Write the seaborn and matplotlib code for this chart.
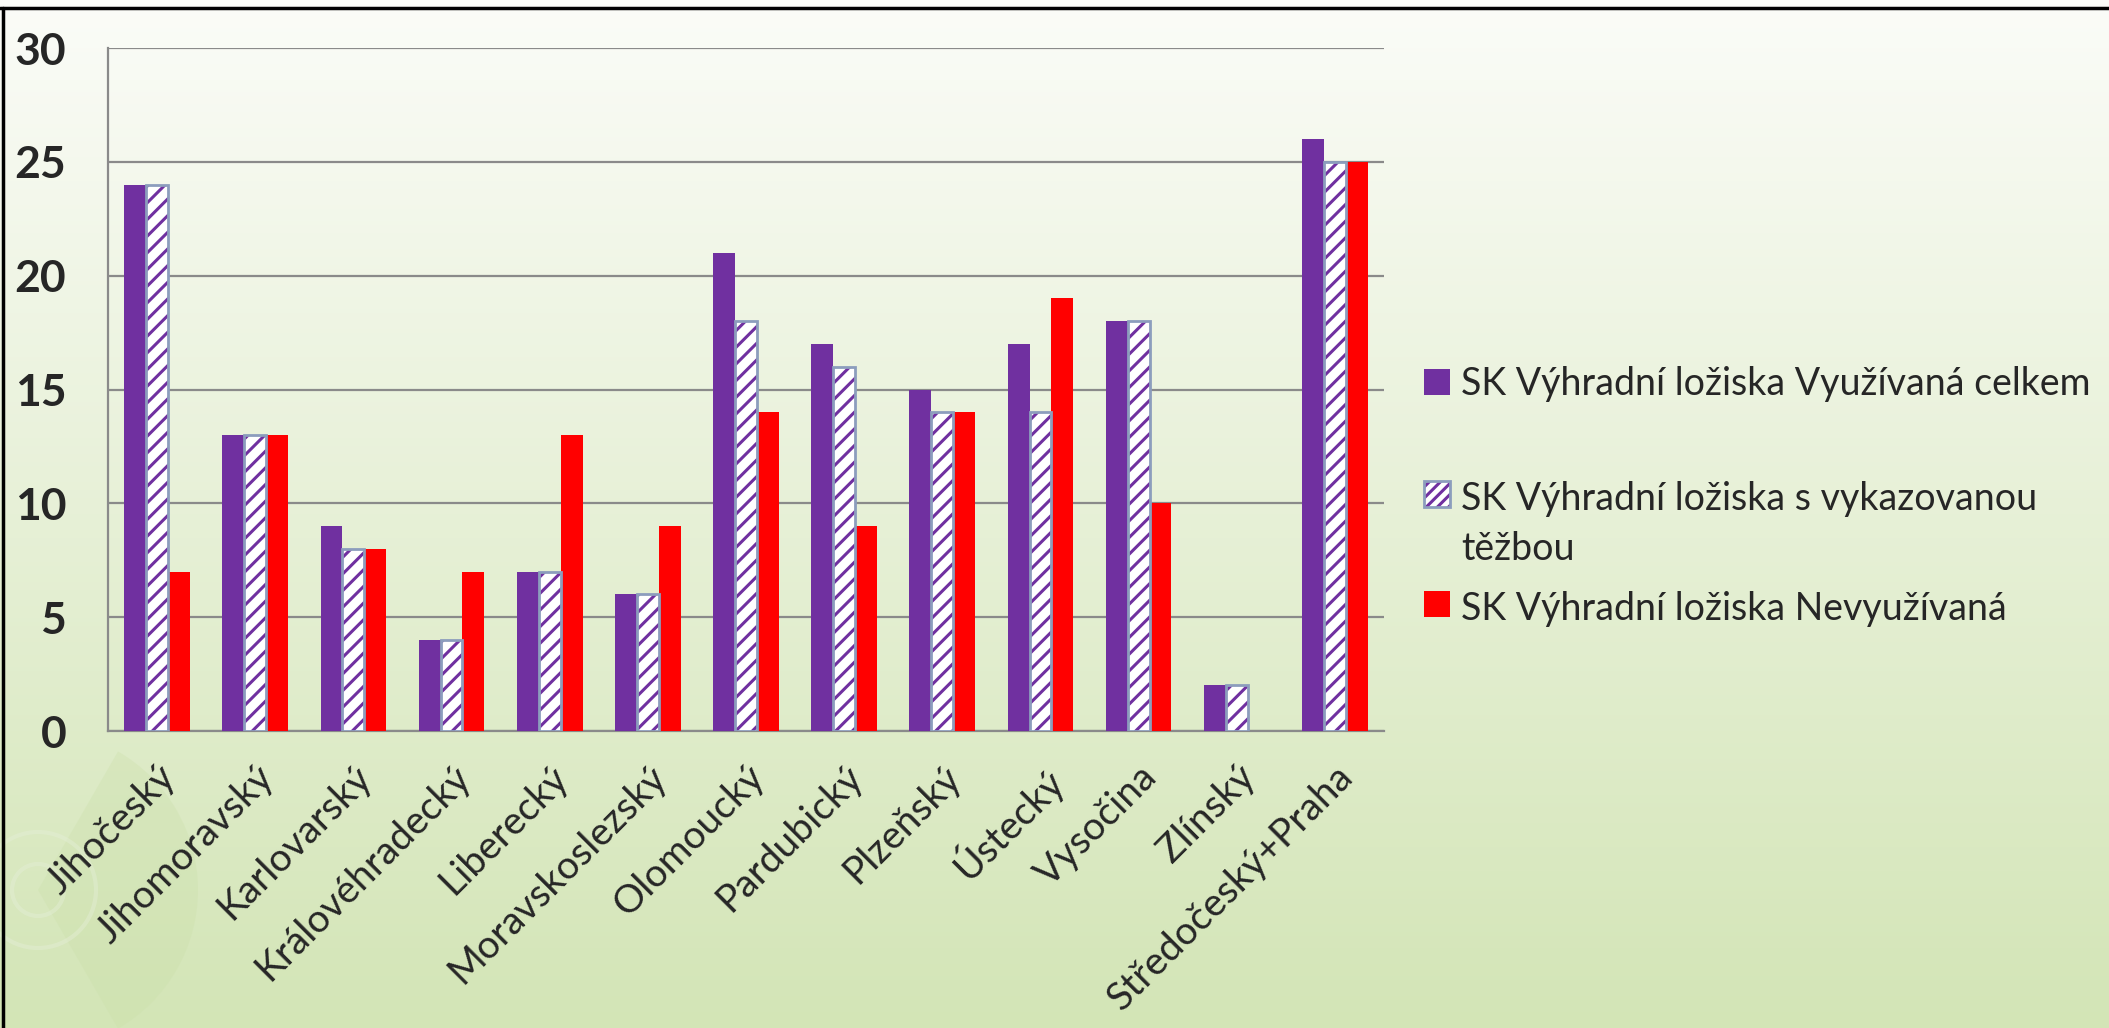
"""Výhradní ložiska stavebního kamene podle krajů – skupinový sloupcový graf."""

import matplotlib
matplotlib.use("Agg")
import matplotlib.pyplot as plt
from matplotlib.patches import Rectangle, Wedge, Circle
from matplotlib.lines import Line2D
from matplotlib.legend_handler import HandlerTuple
import numpy as np
import pandas as pd
import seaborn as sns

kraje = ["Jihočeský", "Jihomoravský", "Karlovarský", "Královéhradecký", "Liberecký",
         "Moravskoslezský", "Olomoucký", "Pardubický", "Plzeňský", "Ústecký",
         "Vysočina", "Zlínský", "Středočeský+Praha"]
vyuzivana = [24, 13, 9, 4, 7, 6, 21, 17, 15, 17, 18, 2, 26]
s_tezbou = [24, 13, 8, 4, 7, 6, 18, 16, 14, 14, 18, 2, 25]
nevyuzivana = [7, 13, 8, 7, 13, 9, 14, 9, 14, 19, 10, 0, 25]
serie = ["SK Výhradní ložiska Využívaná celkem",
         "SK Výhradní ložiska s vykazovanou\ntěžbou",
         "SK Výhradní ložiska Nevyužívaná"]

PURPLE, RED, OUTLINE, GRID = "#7030a0", "#ff0000", "#8c9dbd", "#8a8a8a"
W, H = 2109, 1028
FS = 27

sns.set_theme(style="white")
plt.rcParams["font.family"] = ["Lato", "DejaVu Sans"]
plt.rcParams["hatch.linewidth"] = 2.2

df = pd.DataFrame({
    "kraj": kraje * 3,
    "pocet": vyuzivana + s_tezbou + nevyuzivana,
    "serie": [s for s in serie for _ in kraje],
})

fig = plt.figure(figsize=(W / 100, H / 100), dpi=100)

# background gradient + faint watermark
bg = fig.add_axes([0, 0, 1, 1], zorder=-10)
top, bot = np.array([251, 252, 248]) / 255, np.array([211, 229, 182]) / 255
t = np.linspace(0, 1, 256)[:, None]
grad = (top * (1 - t) + bot * t)[:, None, :]
bg.imshow(grad, extent=[0, W, H, 0], aspect="auto")
bg.add_patch(Wedge((38, 890), 160, -60, 60, color="#cadfa8", alpha=0.3, lw=0))
bg.add_patch(Circle((38, 890), 58, fill=False, ec="#e4eed6", lw=3, alpha=0.45))
bg.add_patch(Circle((38, 890), 26, fill=False, ec="#e4eed6", lw=3, alpha=0.45))
bg.set_xlim(0, W); bg.set_ylim(H, 0); bg.axis("off")

ax = fig.add_axes([108 / W, 1 - 731 / H, (1384 - 108) / W, (731 - 48) / H])
ax.patch.set_alpha(0)
sns.barplot(data=df, x="kraj", y="pocet", hue="serie", hue_order=serie,
            palette=[PURPLE, "white", RED], width=0.67, saturation=1,
            linewidth=0, ax=ax, legend=False, zorder=3)

# hatched middle series: purple stripes on white + blue-grey outline
for p in ax.containers[1]:
    p.set_hatch("//"); p.set_edgecolor(PURPLE); p.set_linewidth(0)
    ax.add_patch(Rectangle(p.get_xy(), p.get_width(), p.get_height(), fill=False,
                           ec=OUTLINE, lw=2, zorder=4))

ax.set_ylim(0, 30); ax.set_xlim(-0.5, len(kraje) - 0.5)
ax.set_yticks(range(0, 31, 5))
ax.yaxis.grid(True, color=GRID, lw=1.6); ax.set_axisbelow(True)
ax.set_xlabel(""); ax.set_ylabel("")
for s in ["top", "right"]: ax.spines[s].set_visible(False)
for s in ["left", "bottom"]: ax.spines[s].set_color(GRID); ax.spines[s].set_linewidth(1.6)
ax.set_xticks(np.arange(-0.5, len(kraje)), minor=True)
ax.tick_params(axis="x", which="minor", length=9, width=1.6, color=GRID, direction="out")
ax.tick_params(axis="x", which="major", length=0, pad=20)
ax.tick_params(axis="y", length=10, width=1.6, color=GRID, direction="out", pad=20)
ax.set_xticklabels(kraje, rotation=45, ha="right", rotation_mode="anchor", fontsize=FS + 1)
for lbl in ax.get_yticklabels():
    lbl.set_fontsize(32); lbl.set_fontweight("bold")

h1 = Rectangle((0, 0), 1, 1, fc=PURPLE, lw=0)
h2a = Rectangle((0, 0), 1, 1, fc="white", ec=PURPLE, lw=0, hatch="///")
h2b = Rectangle((0, 0), 1, 1, fill=False, ec=OUTLINE, lw=2)
h3 = Rectangle((0, 0), 1, 1, fc=RED, lw=0)
leg_kw = dict(loc="upper left", frameon=False, fontsize=FS, handlelength=0.68,
              handleheight=0.68, handletextpad=0.3, borderpad=0, borderaxespad=0,
              handler_map={tuple: HandlerTuple(ndivide=1, pad=0)})
fig.legend([h1], serie[:1], bbox_to_anchor=(1424 / W, 1 - 366 / H), **leg_kw)
leg2 = fig.legend([(h2a, h2b), h3], serie[1:], bbox_to_anchor=(1424 / W, 1 - 481 / H),
                  labelspacing=0.62, **leg_kw)
for txt in leg2.get_texts():
    txt.set_linespacing(1.5)
for col in leg2._legend_handle_box.get_children():
    for item in col.get_children():
        item.align = "top"

# slide frame (top and left)
fig.add_artist(Line2D([0, 1], [1 - 8 / H] * 2, color="black", lw=2.5))
fig.add_artist(Line2D([3 / W] * 2, [0, 1 - 8 / H], color="black", lw=2.5))

fig.savefig("out.png", dpi=100)
